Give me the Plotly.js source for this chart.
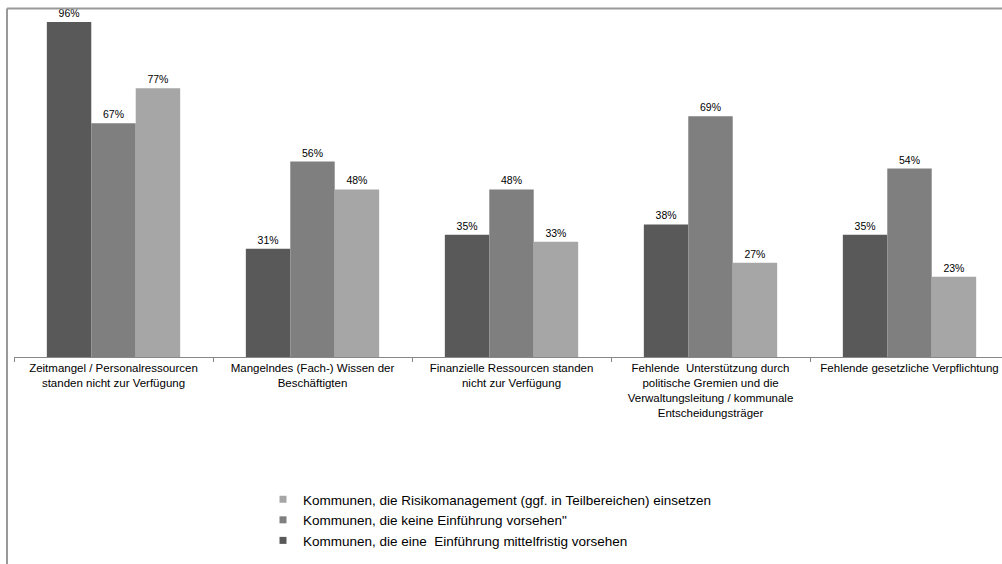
<!DOCTYPE html>
<html>
<head>
<meta charset="utf-8">
<script src="https://cdn.plot.ly/plotly-3.0.1.min.js"></script>
<style>
html,body{margin:0;padding:0;background:#fff;}
#chart{width:1002px;height:564px;}
</style>
</head>
<body>
<div id="chart"></div>
<script>
var categories = [
  "Zeitmangel / Personalressourcen<br>standen nicht zur Verfügung",
  "Mangelndes (Fach-) Wissen der<br>Beschäftigten",
  "Finanzielle Ressourcen standen<br>nicht zur Verfügung",
  "Fehlende  Unterstützung durch<br>politische Gremien und die<br>Verwaltungsleitung / kommunale<br>Entscheidungsträger",
  "Fehlende gesetzliche Verpflichtung"
];
var seriesNames = [
  "Kommunen, die eine  Einführung mittelfristig vorsehen",
  "Kommunen, die keine Einführung vorsehen\"",
  "Kommunen, die Risikomanagement (ggf. in Teilbereichen) einsetzen"
];
var mittelfristig = [96, 31, 35, 38, 35];
var keineEinfuehrung = [67, 56, 48, 69, 54];
var risikomanagement = [77, 48, 33, 27, 23];
var colors = ["#595959", "#7f7f7f", "#a6a6a6"];

var FONT = "Liberation Sans, Arial, sans-serif";
var seriesValues = [mittelfristig, keineEinfuehrung, risikomanagement];
var traces = [];
seriesValues.forEach(function(vals, i){
  traces.push({
    type: "bar",
    name: seriesNames[i],
    x: categories,
    y: vals,
    marker: {color: colors[i]},
    text: vals.map(function(v){return v + "%";}),
    textposition: "outside",
    textfont: {family: FONT, size: 10.5, color: "#000"},
    cliponaxis: false,
    showlegend: false,
    hoverinfo: "none"
  });
});
// legend entries with small square symbols
seriesValues.forEach(function(vals, i){
  traces.push({
    type: "scatter",
    mode: "markers",
    name: seriesNames[i],
    x: [null], y: [null],
    marker: {symbol: "square", size: 7, color: colors[i]},
    showlegend: true,
    hoverinfo: "none"
  });
});

var plotLeft = 14, plotRight = 0, plotTop = 8, plotBottom = 207;
var W = 1002, H = 564;
var pw = W - plotLeft - plotRight, ph = H - plotTop - plotBottom;
var catPx = 199;
var xEnd = -0.5 + pw / catPx;

var layout = {
  width: W, height: H,
  margin: {l: plotLeft, r: plotRight, t: plotTop, b: plotBottom, pad: 0},
  paper_bgcolor: "#fff",
  plot_bgcolor: "#fff",
  barmode: "group",
  bargap: 0.33,
  bargroupgap: 0,
  font: {family: FONT, size: 10, color: "#000"},
  xaxis: {
    type: "category",
    range: [-0.5, xEnd],
    showline: true, linecolor: "#888", linewidth: 1,
    ticks: "outside", tickson: "boundaries", ticklen: 4, tickcolor: "#888",
    tickfont: {family: FONT, size: 11.5, color: "#000"},
    tickangle: 0,
    showgrid: false, zeroline: false, fixedrange: true
  },
  yaxis: {
    range: [0, 100], visible: false, showgrid: false, zeroline: false, fixedrange: true
  },
  showlegend: true,
  legend: {
    traceorder: "reversed",
    x: (263 - plotLeft) / pw, xanchor: "left",
    y: (plotTop + ph - 484) / ph, yanchor: "top",
    font: {family: FONT, size: 13.5, color: "#000"},
    bgcolor: "rgba(0,0,0,0)",
    itemwidth: 30
  },
  shapes: [
    {type: "line", xref: "paper", yref: "paper",
     x0: (7 - plotLeft) / pw, x1: 1.01, y0: 1 + (plotTop - 8.5) / ph, y1: 1 + (plotTop - 8.5) / ph,
     line: {color: "#999", width: 2}},
    {type: "line", xref: "paper", yref: "paper",
     x0: (7 - plotLeft) / pw, x1: (7 - plotLeft) / pw, y0: 1 + (plotTop - 8.5) / ph, y1: -(H - plotTop - ph + 5) / ph,
     line: {color: "#999", width: 2}}
  ]
};

Plotly.newPlot("chart", traces, layout, {displayModeBar: false, staticPlot: true});
</script>
</body>
</html>
